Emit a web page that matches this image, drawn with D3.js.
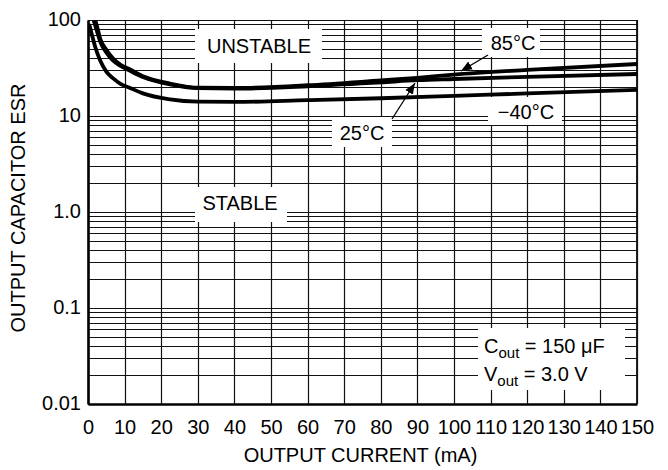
<!DOCTYPE html>
<html>
<head>
<meta charset="utf-8">
<script src="https://cdn.jsdelivr.net/npm/d3@7"></script>
<style>
  body { margin: 0; background: #fff; }
  text { font-family: "Liberation Sans", Arial, Helvetica, sans-serif; fill: #000; }
</style>
</head>
<body>
<script>
// chart values
var xTicks = [0, 10, 20, 30, 40, 50, 60, 70, 80, 90, 100, 110, 120, 130, 140, 150];
var yTicks = [100, 10, 1, 0.1, 0.01];
var yTickLabels = ["100", "10", "1.0", "0.1", "0.01"];

var curM40 = [0.4, 1, 2, 3.3, 5, 6.8, 9, 11.5, 15, 22.4, 30, 40, 60, 80, 100, 120, 150];
var esrM40 = [88, 72, 52, 38, 29, 24.8, 21.5, 19.6, 17.2, 14.9, 14.1, 14.0, 14.6, 15.3, 16.2, 17.2, 18.7];

var cur25 = [1.6, 2.5, 3.3, 5, 6.8, 9, 11.5, 15, 22.4, 30, 40, 60, 80, 90, 100, 120, 150];
var esr25 = [98, 75, 60, 46, 38, 33, 29.5, 25.5, 21.3, 19.5, 19.3, 20.4, 22.4, 23.6, 24.3, 25.6, 27.4];

var cur85 = [1.9, 2.6, 3.3, 5, 6.8, 9, 11.5, 15, 22.4, 30, 40, 60, 80, 90, 100, 120, 150];
var esr85 = [103, 82, 64, 49, 40, 34, 30.5, 26, 21.8, 19.7, 19.6, 20.9, 23.5, 25, 27, 30.2, 34.8];

var svgWidth = 668;
var svgHeight = 470;
var margin = { top: 20, right: 31, bottom: 66, left: 88 };
var chartWidth = svgWidth - margin.left - margin.right;
var chartHeight = svgHeight - margin.top - margin.bottom;

var svg = d3.select("body").append("svg")
  .attr("width", svgWidth)
  .attr("height", svgHeight);

var defs = svg.append("defs");
defs.append("clipPath").attr("id", "plotclip")
  .append("rect").attr("width", chartWidth).attr("height", chartHeight);
defs.append("marker")
  .attr("id", "arrow")
  .attr("viewBox", "0 0 10 10")
  .attr("refX", 10).attr("refY", 5)
  .attr("markerWidth", 11).attr("markerHeight", 11)
  .attr("markerUnits", "userSpaceOnUse")
  .attr("orient", "auto")
  .append("path").attr("d", "M0,1 L10,5 L0,9 Z").attr("fill", "#000");

var chartGroup = svg.append("g")
  .attr("transform", `translate(${margin.left},${margin.top})`);

var x = d3.scaleLinear().domain([0, 150]).range([0, chartWidth]);
var y = d3.scaleLog().domain([0.01, 100]).range([chartHeight, 0]);

// snap grid lines onto the pixel grid so they all come out 1px
var px = v => Math.round(v) + 0.5;

// grid: vertical every 10 mA
chartGroup.append("g").selectAll("line")
  .data(xTicks)
  .enter().append("line")
  .attr("x1", d => px(x(d))).attr("x2", d => px(x(d)))
  .attr("y1", 0).attr("y2", chartHeight)
  .attr("stroke", "#111").attr("stroke-width", 1.2);

// grid: log minor + decades
var minor = [];
[0.01, 0.1, 1, 10].forEach(function(dec) {
  for (var k = 1; k <= 10; k++) minor.push(dec * k);
});
chartGroup.append("g").selectAll("line")
  .data(minor)
  .enter().append("line")
  .attr("x1", 0).attr("x2", chartWidth)
  .attr("y1", d => px(y(d))).attr("y2", d => px(y(d)))
  .attr("stroke", "#111")
  .attr("stroke-width", 1.2);

// right border
chartGroup.append("line")
  .attr("x1", chartWidth).attr("x2", chartWidth)
  .attr("y1", 0).attr("y2", chartHeight)
  .attr("stroke", "#111").attr("stroke-width", 1.8);

// white boxes that mask the grid behind labels
var boxes = [
  [107, 9, 127, 34],   // UNSTABLE
  [394, 8, 58, 29],    // 85C
  [400, 77, 74, 28],   // -40C
  [244, 97, 60, 30],   // 25C
  [107, 167, 92, 35],  // STABLE
  [390, 308, 147, 62]  // Cout / Vout
];
chartGroup.append("g").selectAll("rect")
  .data(boxes)
  .enter().append("rect")
  .attr("x", d => d[0]).attr("y", d => d[1])
  .attr("width", d => d[2]).attr("height", d => d[3])
  .attr("fill", "#fff");

// curves
var line = d3.line()
  .x(d => x(d[0]))
  .y(d => y(d[1]))
  .curve(d3.curveMonotoneX);

var series = [
  d3.zip(curM40, esrM40),
  d3.zip(cur25, esr25),
  d3.zip(cur85, esr85)
];
chartGroup.append("g").attr("clip-path", "url(#plotclip)")
  .selectAll("path")
  .data(series)
  .enter().append("path")
  .attr("d", line)
  .attr("fill", "none")
  .attr("stroke", "#000")
  .attr("stroke-width", 3.8)
  .attr("stroke-linecap", "round");

// axes (left and bottom heavy lines)
var bottomAxis = d3.axisBottom(x).tickValues(xTicks).tickSize(0).tickPadding(16);
var leftAxis = d3.axisLeft(y).tickValues(yTicks).tickSize(0).tickPadding(7)
  .tickFormat((d, i) => yTickLabels[i]);

var gx = chartGroup.append("g")
  .attr("transform", `translate(0, ${chartHeight})`)
  .call(bottomAxis);
gx.select(".domain").attr("stroke", "#000").attr("stroke-width", 2.6);
gx.selectAll("text").attr("font-size", 20).attr("fill", "#000")
  .style("font-family", "'Liberation Sans', Arial, sans-serif");

var gy = chartGroup.append("g").call(leftAxis);
gy.select(".domain").attr("stroke", "#000").attr("stroke-width", 2.6);
gy.selectAll("text").attr("font-size", 20).attr("fill", "#000")
  .attr("dy", "0.25em")
  .style("font-family", "'Liberation Sans', Arial, sans-serif");

// axis titles
svg.append("text")
  .attr("x", margin.left + chartWidth / 2 - 2).attr("y", 462)
  .attr("text-anchor", "middle").attr("font-size", 20)
  .text("OUTPUT CURRENT (mA)");
svg.append("text")
  .attr("transform", "translate(25, 208) rotate(-90)")
  .attr("text-anchor", "middle").attr("font-size", 20)
  .text("OUTPUT CAPACITOR ESR");

// annotations
function label(tx, ty, s) {
  chartGroup.append("text").attr("x", tx).attr("y", ty)
    .attr("text-anchor", "middle").attr("font-size", 20).text(s);
}
label(171, 33, "UNSTABLE");
label(425, 30, "85°C");
label(438, 99, "\u221240°C");
label(274, 120, "25°C");
label(152, 190, "STABLE");

function arrow(x1, y1, x2, y2) {
  chartGroup.append("line")
    .attr("x1", x1).attr("y1", y1).attr("x2", x2).attr("y2", y2)
    .attr("stroke", "#000").attr("stroke-width", 1.3)
    .attr("marker-end", "url(#arrow)");
}
arrow(400, 35, 373, 51);
arrow(304, 99, 327, 63);

var t1 = chartGroup.append("text").attr("x", 396).attr("y", 333).attr("font-size", 20);
t1.append("tspan").text("C");
t1.append("tspan").attr("font-size", 15).attr("dy", 5).text("out");
t1.append("tspan").attr("dy", -5).text(" = 150 \u03bcF");

var t2 = chartGroup.append("text").attr("x", 396).attr("y", 361).attr("font-size", 20);
t2.append("tspan").text("V");
t2.append("tspan").attr("font-size", 15).attr("dy", 5).text("out");
t2.append("tspan").attr("dy", -5).text(" = 3.0 V");
</script>
</body>
</html>
